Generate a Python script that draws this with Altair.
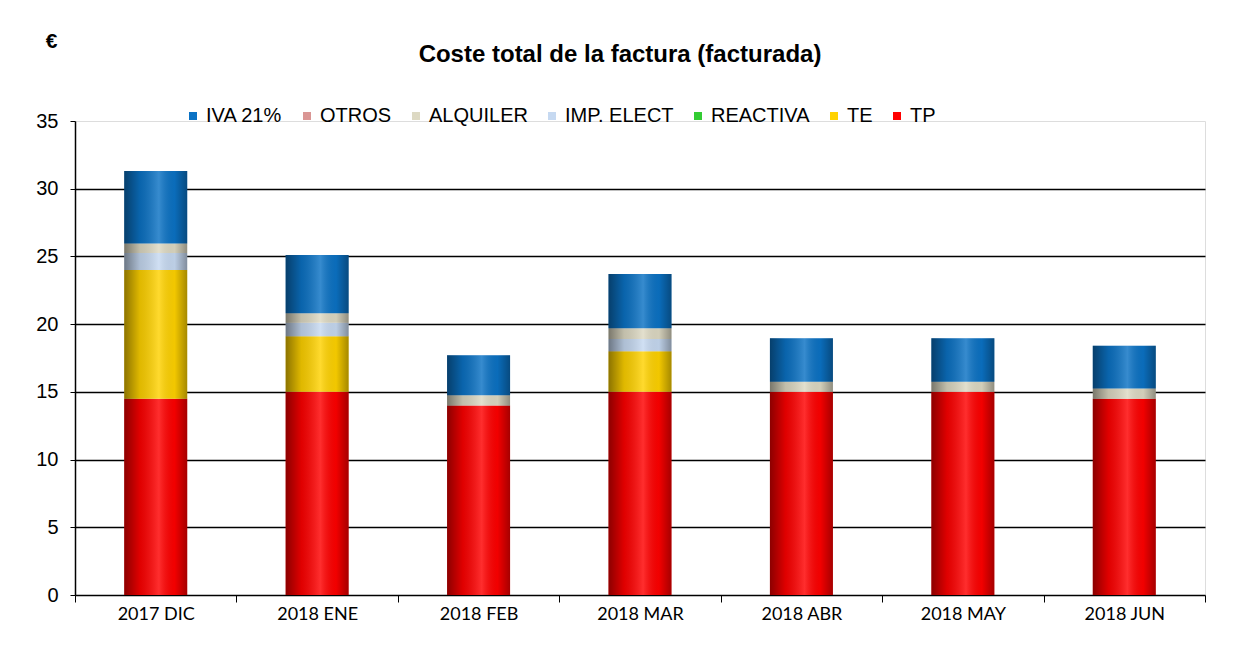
import altair as alt
import pandas as pd

months = ["2017 DIC", "2018 ENE", "2018 FEB", "2018 MAR", "2018 ABR", "2018 MAY", "2018 JUN"]
series = ["IVA 21%", "OTROS", "ALQUILER", "IMP. ELECT", "REACTIVA", "TE", "TP"]
colors = ["#0B72C4", "#DA9694", "#DDD9C3", "#C6D9F1", "#33CC33", "#FFD200", "#FF0000"]

tp = [14.5, 15.0, 14.0, 15.0, 15.0, 15.0, 14.5]
te = [9.5, 4.1, 0.0, 3.0, 0.0, 0.0, 0.0]
reactiva = [0.0, 0.0, 0.0, 0.0, 0.0, 0.0, 0.0]
imp_elect = [1.25, 1.0, 0.0, 0.9, 0.0, 0.0, 0.0]
alquiler = [0.7, 0.7, 0.75, 0.8, 0.75, 0.75, 0.75]
otros = [0.0, 0.0, 0.0, 0.0, 0.0, 0.0, 0.0]
iva = [5.35, 4.3, 2.95, 4.0, 3.2, 3.2, 3.15]

stack_order = ["TP", "TE", "REACTIVA", "IMP. ELECT", "ALQUILER", "OTROS", "IVA 21%"]
values = {"TP": tp, "TE": te, "REACTIVA": reactiva, "IMP. ELECT": imp_elect,
          "ALQUILER": alquiler, "OTROS": otros, "IVA 21%": iva}

rows = []
for s_i, s in enumerate(stack_order):
    for m_i, m in enumerate(months):
        rows.append({"mes": m, "serie": s, "valor": values[s][m_i], "orden": s_i})
df = pd.DataFrame(rows)

FONT = "Liberation Sans"

x_enc = alt.X("mes:N", sort=months, title=None,
              scale=alt.Scale(paddingInner=0, paddingOuter=0),
              axis=alt.Axis(labelAngle=0, labelFont="Lato", labelFontSize=18, labelColor="#000",
                            domainColor="#000", domainWidth=1.5, tickColor="#000",
                            tickSize=7, tickBand="extent", labelPadding=3))

y_axis = alt.Axis(values=[0, 5, 10, 15, 20, 25, 30, 35], labelFont=FONT, labelFontSize=20,
                  labelColor="#000", domainColor="#000", domainWidth=1.5,
                  tickColor="#000", tickSize=5, labelPadding=12,
                  grid=True, gridColor="#000", gridWidth=1.6,
                  gridOpacity={"condition": {"test": "datum.value == 0 || datum.value == 35", "value": 0}, "value": 1},
                  title="€", titleAngle=0, titleFont=FONT, titleFontSize=21, titleFontWeight="bold",
                  titleX=-24, titleY=-70, titleAlign="center")

bars = alt.Chart(df).mark_bar(size=63).encode(
    x=x_enc,
    y=alt.Y("valor:Q", stack="zero", scale=alt.Scale(domain=[0, 35], nice=False), axis=y_axis),
    color=alt.Color("serie:N", scale=alt.Scale(domain=series, range=colors),
                    legend=alt.Legend(title=None, orient="none", direction="horizontal", columns=7,
                                      legendX=108, legendY=-15, symbolType="square", symbolSize=64,
                                      labelFont=FONT, labelFontSize=20, labelColor="#000",
                                      columnPadding=14, symbolOffset=0, labelOffset=3)),
    order=alt.Order("orden:Q", sort="ascending"),
)

shade = alt.LinearGradient(
    gradient="linear", x1=0, y1=0, x2=1, y2=0,
    stops=[
        alt.GradientStop(color="rgba(0,0,0,0.45)", offset=0),
        alt.GradientStop(color="rgba(0,0,0,0.12)", offset=0.25),
        alt.GradientStop(color="rgba(255,255,255,0.18)", offset=0.55),
        alt.GradientStop(color="rgba(0,0,0,0.05)", offset=0.8),
        alt.GradientStop(color="rgba(0,0,0,0.35)", offset=1),
    ],
)

overlay = alt.Chart(df).transform_aggregate(
    total="sum(valor)", groupby=["mes"]
).mark_bar(size=63, fill=shade).encode(
    x=alt.X("mes:N", sort=months),
    y=alt.Y("total:Q"),
)

chart = alt.layer(bars, overlay).properties(
    width=1130, height=474,
    autosize=alt.AutoSizeParams(type="none"),
    padding={"left": 67, "top": 113, "right": 40, "bottom": 50},
    title=alt.Title("Coste total de la factura (facturada)", font=FONT, fontSize=24,
                    fontWeight="bold", color="#000", anchor="middle", dx=-20, offset=-37),
).configure_view(stroke=None).configure(background="white")

chart.save("out.html", embed_options={"renderer": "svg", "actions": False})
